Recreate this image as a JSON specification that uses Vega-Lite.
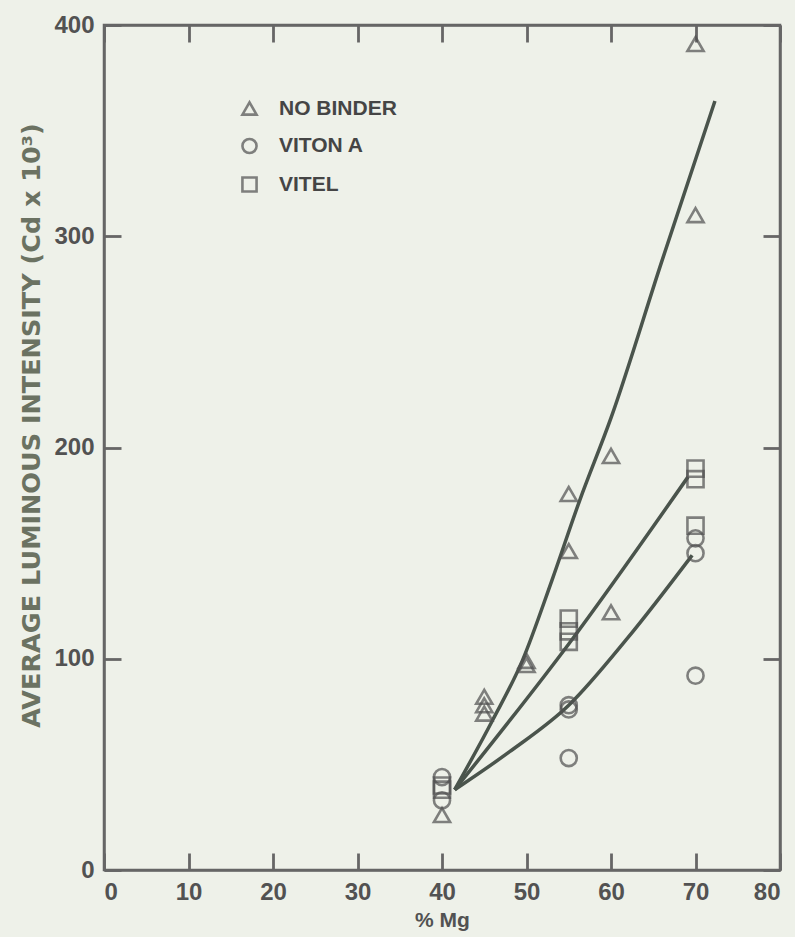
{
  "$schema": "https://vega.github.io/schema/vega-lite/v6.json",
  "width": 676,
  "height": 845,
  "autosize": "none",
  "padding": {"left": 104, "top": 25, "right": 15, "bottom": 67},
  "background": "#eef1e9",
  "config": {
    "view": {"stroke": "#666666", "strokeWidth": 2.5},
    "font": "Liberation Sans",
    "axis": {
      "grid": false,
      "domainColor": "#666666",
      "domainWidth": 2.5,
      "tickColor": "#666666",
      "tickWidth": 2.8,
      "tickSize": -17,
      "labelPadding": 27,
      "labelFont": "Liberation Sans",
      "labelFontWeight": "bold",
      "labelFontSize": 24,
      "labelColor": "#525252",
      "titleFont": "Liberation Sans",
      "titleFontWeight": "bold",
      "titleColor": "#525252"
    }
  },
  "datasets": {
    "points": [
      {"series": "NO BINDER", "mg": 40, "lum": 26},
      {"series": "NO BINDER", "mg": 45, "lum": 82},
      {"series": "NO BINDER", "mg": 45, "lum": 78},
      {"series": "NO BINDER", "mg": 45, "lum": 74},
      {"series": "NO BINDER", "mg": 50, "lum": 99},
      {"series": "NO BINDER", "mg": 50, "lum": 97},
      {"series": "NO BINDER", "mg": 55, "lum": 178},
      {"series": "NO BINDER", "mg": 55, "lum": 151},
      {"series": "NO BINDER", "mg": 60, "lum": 196},
      {"series": "NO BINDER", "mg": 60, "lum": 122},
      {"series": "NO BINDER", "mg": 70, "lum": 391},
      {"series": "NO BINDER", "mg": 70, "lum": 310},
      {"series": "VITON A", "mg": 40, "lum": 44},
      {"series": "VITON A", "mg": 40, "lum": 33},
      {"series": "VITON A", "mg": 55, "lum": 78},
      {"series": "VITON A", "mg": 55, "lum": 76},
      {"series": "VITON A", "mg": 55, "lum": 53},
      {"series": "VITON A", "mg": 70, "lum": 157},
      {"series": "VITON A", "mg": 70, "lum": 150},
      {"series": "VITON A", "mg": 70, "lum": 92},
      {"series": "VITEL", "mg": 40, "lum": 38},
      {"series": "VITEL", "mg": 40, "lum": 40},
      {"series": "VITEL", "mg": 55, "lum": 119},
      {"series": "VITEL", "mg": 55, "lum": 113},
      {"series": "VITEL", "mg": 55, "lum": 108},
      {"series": "VITEL", "mg": 70, "lum": 190},
      {"series": "VITEL", "mg": 70, "lum": 185},
      {"series": "VITEL", "mg": 70, "lum": 163}
    ],
    "curves": [
      {"series": "NO BINDER", "mg": 41.5, "lum": 38},
      {"series": "NO BINDER", "mg": 46, "lum": 71},
      {"series": "NO BINDER", "mg": 49.5, "lum": 99},
      {"series": "NO BINDER", "mg": 53, "lum": 137},
      {"series": "NO BINDER", "mg": 56.3, "lum": 175},
      {"series": "NO BINDER", "mg": 60, "lum": 214},
      {"series": "NO BINDER", "mg": 66, "lum": 288},
      {"series": "NO BINDER", "mg": 72.3, "lum": 364},
      {"series": "VITEL", "mg": 41.5, "lum": 38},
      {"series": "VITEL", "mg": 55, "lum": 107},
      {"series": "VITEL", "mg": 69.1, "lum": 186},
      {"series": "VITON A", "mg": 41.5, "lum": 38},
      {"series": "VITON A", "mg": 48, "lum": 56},
      {"series": "VITON A", "mg": 55, "lum": 78},
      {"series": "VITON A", "mg": 62, "lum": 110},
      {"series": "VITON A", "mg": 69.6, "lum": 149}
    ]
  },
  "layer": [
    {
      "data": {"name": "curves"},
      "mark": {"type": "line", "interpolate": "monotone", "color": "#4a544c", "strokeWidth": 3.5},
      "encoding": {
        "x": {
          "field": "mg", "type": "quantitative",
          "scale": {"domain": [0, 80], "nice": false},
          "axis": {"orient": "top", "labels": false, "title": null, "values": [0, 10, 20, 30, 40, 50, 60, 70, 80]}
        },
        "y": {
          "field": "lum", "type": "quantitative",
          "scale": {"domain": [0, 400], "nice": false},
          "axis": {"orient": "right", "labels": false, "title": null, "values": [0, 100, 200, 300, 400]}
        },
        "detail": {"field": "series"}
      }
    },
    {
      "data": {"name": "points"},
      "mark": {"type": "point", "filled": false, "strokeWidth": 2.6, "size": 260, "color": "#505050"},
      "encoding": {
        "x": {
          "field": "mg", "type": "quantitative",
          "scale": {"domain": [0, 80], "nice": false},
          "axis": {"orient": "bottom", "title": "% Mg", "titleFontSize": 21, "titlePadding": 5, "values": [0, 10, 20, 30, 40, 50, 60, 70, 80]}
        },
        "y": {
          "field": "lum", "type": "quantitative",
          "scale": {"domain": [0, 400], "nice": false},
          "axis": {"orient": "left", "title": "AVERAGE LUMINOUS INTENSITY (Cd x 10³)", "titleFont": "DejaVu Sans", "titleFontSize": 25.5, "titleColor": "#6b7262", "titleX": -73, "titleY": 400, "titleBaseline": "middle", "titleAlign": "center", "values": [0, 100, 200, 300, 400]}
        },
        "shape": {
          "field": "series", "type": "nominal",
          "scale": {"domain": ["NO BINDER", "VITON A", "VITEL"], "range": ["triangle-up", "circle", "square"]},
          "legend": {
            "orient": "none", "legendX": 135, "legendY": 73, "title": null,
            "symbolSize": 200, "symbolStrokeWidth": 2.6, "symbolStrokeColor": "#505050", "symbolFillColor": "transparent",
            "labelFontSize": 21, "labelFontWeight": "bold", "labelColor": "#454545", "labelFont": "Liberation Sans",
            "rowPadding": 13.5, "labelOffset": 19
          }
        }
      }
    }
  ],
  "resolve": {"axis": {"x": "independent", "y": "independent"}}
}
